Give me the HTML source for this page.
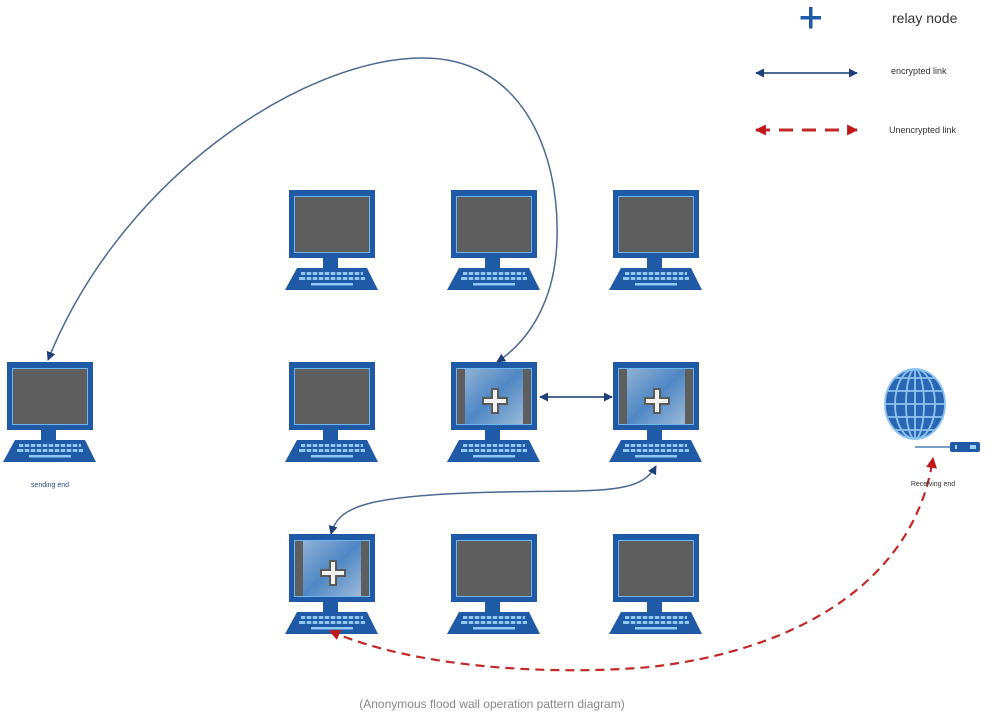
<!DOCTYPE html>
<html><head><meta charset="utf-8"><style>
html,body{margin:0;padding:0;background:#fff;}
svg{display:block}
text{font-family:"Liberation Sans",sans-serif}
</style></head><body>
<svg width="1000" height="716" viewBox="0 0 1000 716" xmlns="http://www.w3.org/2000/svg">
<defs>
<g id="pc">
  <rect x="0" y="0" width="86" height="68" fill="#1f5aa6"/>
  <rect x="5" y="6" width="76" height="57" fill="#6fb6ee"/>
  <rect x="6" y="7" width="74" height="55" fill="#5e5e5e"/>
  <rect x="34" y="68" width="15" height="10" fill="#1f5aa6"/>
  <polygon points="8,78 78,78 89,100 -4,100" fill="#1f5aa6"/>
  <g fill="#8fc8f4">
    <rect x="12" y="82" width="62" height="3"/>
    <rect x="10" y="87" width="66" height="3"/>
    <rect x="22" y="93" width="42" height="2.5"/>
  </g>
  <g stroke="#1f5aa6" stroke-width="1.5">
    <line x1="17" y1="81" x2="17" y2="91"/><line x1="23" y1="81" x2="23" y2="91"/><line x1="29" y1="81" x2="29" y2="91"/><line x1="35" y1="81" x2="35" y2="91"/><line x1="41" y1="81" x2="41" y2="91"/><line x1="47" y1="81" x2="47" y2="91"/><line x1="53" y1="81" x2="53" y2="91"/><line x1="59" y1="81" x2="59" y2="91"/><line x1="65" y1="81" x2="65" y2="91"/><line x1="71" y1="81" x2="71" y2="91"/>
  </g>
</g>
<linearGradient id="sg" x1="0" y1="0" x2="1" y2="1">
  <stop offset="0" stop-color="#8fb2d6"/><stop offset="0.5" stop-color="#4f87c4"/><stop offset="1" stop-color="#9dbad8"/>
</linearGradient>
<g id="relay">
  <rect x="6" y="7" width="74" height="55" fill="#5e5e5e"/>
  <rect x="14" y="7" width="58" height="55" fill="url(#sg)"/>
  <path d="M40,26h8v9h9v8h-9v9h-8v-9h-9v-8h9z" fill="#5a5a5a"/>
  <path d="M42,28h4v9h9v4h-9v9h-4v-9h-9v-4h9z" fill="#f2f2f2"/>
</g>
<marker id="ab" viewBox="0 0 10 10" refX="9" refY="5" markerWidth="9" markerHeight="9" orient="auto-start-reverse" markerUnits="userSpaceOnUse"><path d="M0,0L10,5L0,10z" fill="#1d3f7a"/></marker>
<marker id="ar" viewBox="0 0 10 10" refX="9" refY="5" markerWidth="11" markerHeight="11" orient="auto-start-reverse" markerUnits="userSpaceOnUse"><path d="M0,0L10,5L0,10z" fill="#c01818"/></marker>
</defs>

<use href="#pc" x="289" y="190"/><use href="#pc" x="451" y="190"/><use href="#pc" x="613" y="190"/>
<use href="#pc" x="7" y="362"/><use href="#pc" x="289" y="362"/><use href="#pc" x="451" y="362"/><use href="#pc" x="613" y="362"/>
<use href="#pc" x="289" y="534"/><use href="#pc" x="451" y="534"/><use href="#pc" x="613" y="534"/>
<use href="#relay" x="451" y="362"/><use href="#relay" x="613" y="362"/><use href="#relay" x="289" y="534"/>

<g>
  <ellipse cx="915" cy="404" rx="30" ry="35" fill="#2a66b4"/>
  <g stroke="#8cc4f0" stroke-width="1.8" fill="none">
    <ellipse cx="915" cy="404" rx="30" ry="35"/>
    <ellipse cx="915" cy="404" rx="20" ry="35"/>
    <ellipse cx="915" cy="404" rx="9" ry="35"/>
    <line x1="915" y1="369" x2="915" y2="439"/>
    <line x1="895" y1="378" x2="935" y2="378"/>
    <line x1="888" y1="391" x2="942" y2="391"/>
    <line x1="885" y1="404" x2="945" y2="404"/>
    <line x1="888" y1="417" x2="942" y2="417"/>
    <line x1="895" y1="430" x2="935" y2="430"/>
  </g>
  <line x1="915" y1="447" x2="952" y2="447" stroke="#7aa0c8" stroke-width="2"/>
  <rect x="950" y="442" width="30" height="10" rx="2" fill="#1f5aa6"/>
  <rect x="955" y="445" width="2" height="4" fill="#9fd0f6"/><rect x="970" y="445" width="6" height="4" fill="#9fd0f6"/>
</g>

<path d="M497,362 C530,340 555,300 557,240 C560,150 520,56 420,58 C300,60 120,180 48,360" fill="none" stroke="#4a6a90" stroke-width="1.5" marker-start="url(#ab)" marker-end="url(#ab)"/>
<line x1="540" y1="397" x2="612" y2="397" stroke="#4a6a90" stroke-width="2" marker-start="url(#ab)" marker-end="url(#ab)"/>
<path d="M656,466 C640,495 600,490 500,492 C360,495 338,508 331,534" fill="none" stroke="#4a6a90" stroke-width="1.5" marker-start="url(#ab)" marker-end="url(#ab)"/>
<path d="M330,631 C420,670 560,675 650,667 C800,650 915,580 933,458" fill="none" stroke="#c22828" stroke-width="2.2" stroke-dasharray="9,6" marker-start="url(#ar)" marker-end="url(#ar)"/>

<path d="M809,7h3.5v9h8.5v3.5h-8.5v9h-3.5v-9h-8.5v-3.5h8.5z" fill="#1f5aa6"/>
<text x="892" y="23" font-size="14" fill="#333">relay node</text>
<line x1="756" y1="73" x2="857" y2="73" stroke="#4a6a90" stroke-width="2" marker-start="url(#ab)" marker-end="url(#ab)"/>
<text x="891" y="74" font-size="9" fill="#333">encrypted link</text>
<line x1="756" y1="130" x2="857" y2="130" stroke="#c22828" stroke-width="3" stroke-dasharray="14,9" marker-start="url(#ar)" marker-end="url(#ar)"/>
<text x="889" y="133" font-size="9" fill="#333">Unencrypted link</text>

<text x="50" y="487" font-size="7" fill="#2a4f80" text-anchor="middle">sending end</text>
<text x="933" y="486" font-size="7" fill="#333" text-anchor="middle">Receiving end</text>
<text x="492" y="708" font-size="12" fill="#888" text-anchor="middle">(Anonymous flood wall operation pattern diagram)</text>
</svg>
</body></html>
